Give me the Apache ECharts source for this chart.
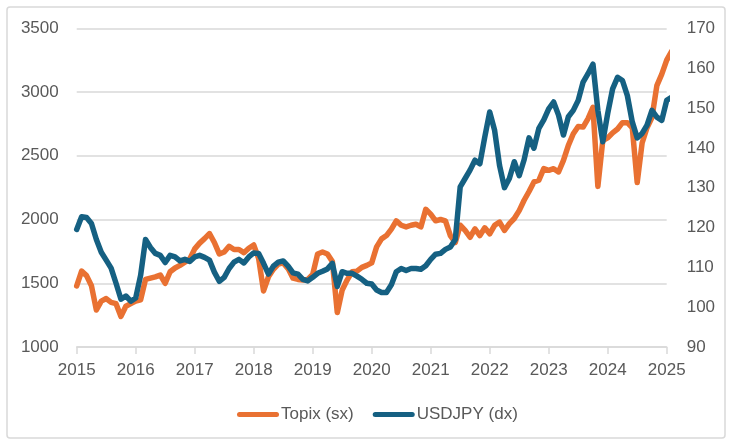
<!DOCTYPE html>
<html>
<head>
<meta charset="utf-8">
<script src="https://cdn.jsdelivr.net/npm/echarts@6/dist/echarts.min.js"></script>
<style>
  html, body { margin: 0; padding: 0; background: #fff; }
  #chart { width: 733px; height: 442px; }
</style>
</head>
<body>
<div id="chart"></div>
<script>
// monthly readings, first point = Jan 2015 on the chart's axis
const startYear = 2015;
const yearTicks = [2015, 2016, 2017, 2018, 2019, 2020, 2021, 2022, 2023, 2024, 2025];

const topix = [
  1480, 1595, 1560, 1480, 1290, 1360, 1380, 1350, 1340, 1240, 1320, 1340,
  1360, 1370, 1530, 1540, 1550, 1565, 1500, 1590, 1620, 1640, 1665, 1690,
  1770, 1815, 1850, 1890, 1820, 1730, 1745, 1790, 1765, 1765, 1740, 1775,
  1800, 1695, 1440, 1551, 1610, 1650, 1660, 1615, 1540, 1530, 1525, 1530,
  1570, 1730, 1745, 1730, 1670, 1270, 1447, 1525, 1590, 1595, 1625, 1640,
  1660, 1785, 1848, 1874, 1925, 1990, 1955, 1942, 1955, 1963, 1942, 2080,
  2042, 1990, 2000, 1990, 1874, 1820, 1955, 1914, 1861, 1927, 1874, 1935,
  1888, 1955, 1980, 1914, 1968, 2008, 2070, 2151, 2220, 2295, 2308, 2399,
  2386, 2399, 2373, 2464, 2582, 2673, 2730, 2725, 2791, 2880, 2260, 2620,
  2640, 2680, 2710, 2760, 2760, 2720, 2290, 2600, 2720, 2800, 3050, 3140,
  3250, 3320
];

const usdjpy = [
  119.5, 122.7, 122.5, 121.0, 117.0, 113.8, 111.8, 109.8, 106.0, 102.0, 102.8, 101.5,
  102.3, 108.0, 117.0, 115.0, 113.5, 113.0, 111.2, 113.0, 112.6, 111.6, 112.0, 111.5,
  112.6, 113.0, 112.5, 111.8, 108.8, 106.5, 107.5, 109.7, 111.3, 112.0, 111.1, 112.6,
  113.6, 113.5, 111.0, 108.3, 110.3, 111.3, 111.6, 110.3, 108.6, 108.3, 107.0, 106.6,
  107.5, 108.5, 109.0, 109.6, 111.0, 105.2, 108.9, 108.5, 108.5, 107.8, 107.0, 106.0,
  105.8, 104.3, 103.7, 103.7, 105.6, 108.9, 109.7, 109.2, 109.7, 109.7, 109.5, 110.4,
  112.0, 113.3, 113.5, 114.5, 115.1, 117.0, 130.2, 132.3, 134.4, 136.9, 136.0, 142.7,
  149.0, 144.4, 135.6, 130.0, 132.3, 136.5, 133.0, 137.0, 142.5, 139.9, 144.9, 147.0,
  149.8, 151.5, 148.2, 143.2, 147.8, 149.4, 151.9, 156.5, 158.6, 161.0, 149.4, 141.5,
  148.6, 154.8, 157.7, 156.9, 153.1, 146.5, 142.5, 143.6, 145.7, 149.4, 147.7, 146.9,
  151.9, 152.7
];

const seriesNames = ['Topix (sx)', 'USDJPY (dx)'];
const seriesColors = ['#E97132', '#156082'];

function toPairs(values) {
  return values.map((v, i) => [startYear + i / 12, v]);
}

const labelColor = '#595959';
const gridColor = '#D9D9D9';
const font = 'Liberation Sans, Arial, sans-serif';
const capsule = 'path://M2.5,0 L39.5,0 A2.5,2.5 0 0 1 39.5,5 L2.5,5 A2.5,2.5 0 0 1 2.5,0 Z';

const chart = echarts.init(document.getElementById('chart'));
chart.setOption({
  animation: false,
  backgroundColor: '#fff',
  graphic: [{
    type: 'rect',
    shape: { x: 7, y: 7, width: 718, height: 431, r: 3 },
    style: { fill: 'none', stroke: gridColor, lineWidth: 1.5 },
    silent: true
  }],
  grid: { left: 76.7, right: 66.3, top: 28.3, bottom: 95 },
  legend: {
    left: 232,
    top: 401,
    icon: capsule,
    itemWidth: 42,
    itemHeight: 5,
    itemGap: 19,
    textStyle: { color: labelColor, fontSize: 17, fontFamily: font, padding: [0, 0, 0, -3] },
    data: seriesNames
  },
  xAxis: {
    type: 'value',
    min: yearTicks[0],
    max: yearTicks[yearTicks.length - 1],
    interval: 1,
    axisLine: { lineStyle: { color: gridColor, width: 1.5 } },
    axisTick: { show: true, length: 7, lineStyle: { color: gridColor, width: 1.5 } },
    splitLine: { show: false },
    axisLabel: { color: labelColor, fontSize: 17, fontFamily: font, margin: 15,
      formatter: v => String(v) }
  },
  yAxis: [{
    type: 'value',
    min: 1000, max: 3500, interval: 500,
    axisLine: { show: false },
    axisTick: { show: false },
    splitLine: { lineStyle: { color: gridColor, width: 1.5 } },
    axisLabel: { color: labelColor, fontSize: 17, fontFamily: font, margin: 18,
      formatter: v => String(v) }
  }, {
    type: 'value',
    min: 90, max: 170, interval: 10,
    position: 'right',
    axisLine: { show: false },
    axisTick: { show: false },
    splitLine: { show: false },
    axisLabel: { color: labelColor, fontSize: 17, fontFamily: font, margin: 20,
      formatter: v => String(v) }
  }],
  series: [{
    name: seriesNames[0],
    type: 'line',
    yAxisIndex: 0,
    data: toPairs(topix),
    showSymbol: false,
    clip: false,
    color: seriesColors[0],
    lineStyle: { width: 5.5, color: seriesColors[0], join: 'round', cap: 'round' }
  }, {
    name: seriesNames[1],
    type: 'line',
    yAxisIndex: 1,
    data: toPairs(usdjpy),
    showSymbol: false,
    clip: false,
    color: seriesColors[1],
    lineStyle: { width: 5.5, color: seriesColors[1], join: 'round', cap: 'round' }
  }]
});
</script>
</body>
</html>
